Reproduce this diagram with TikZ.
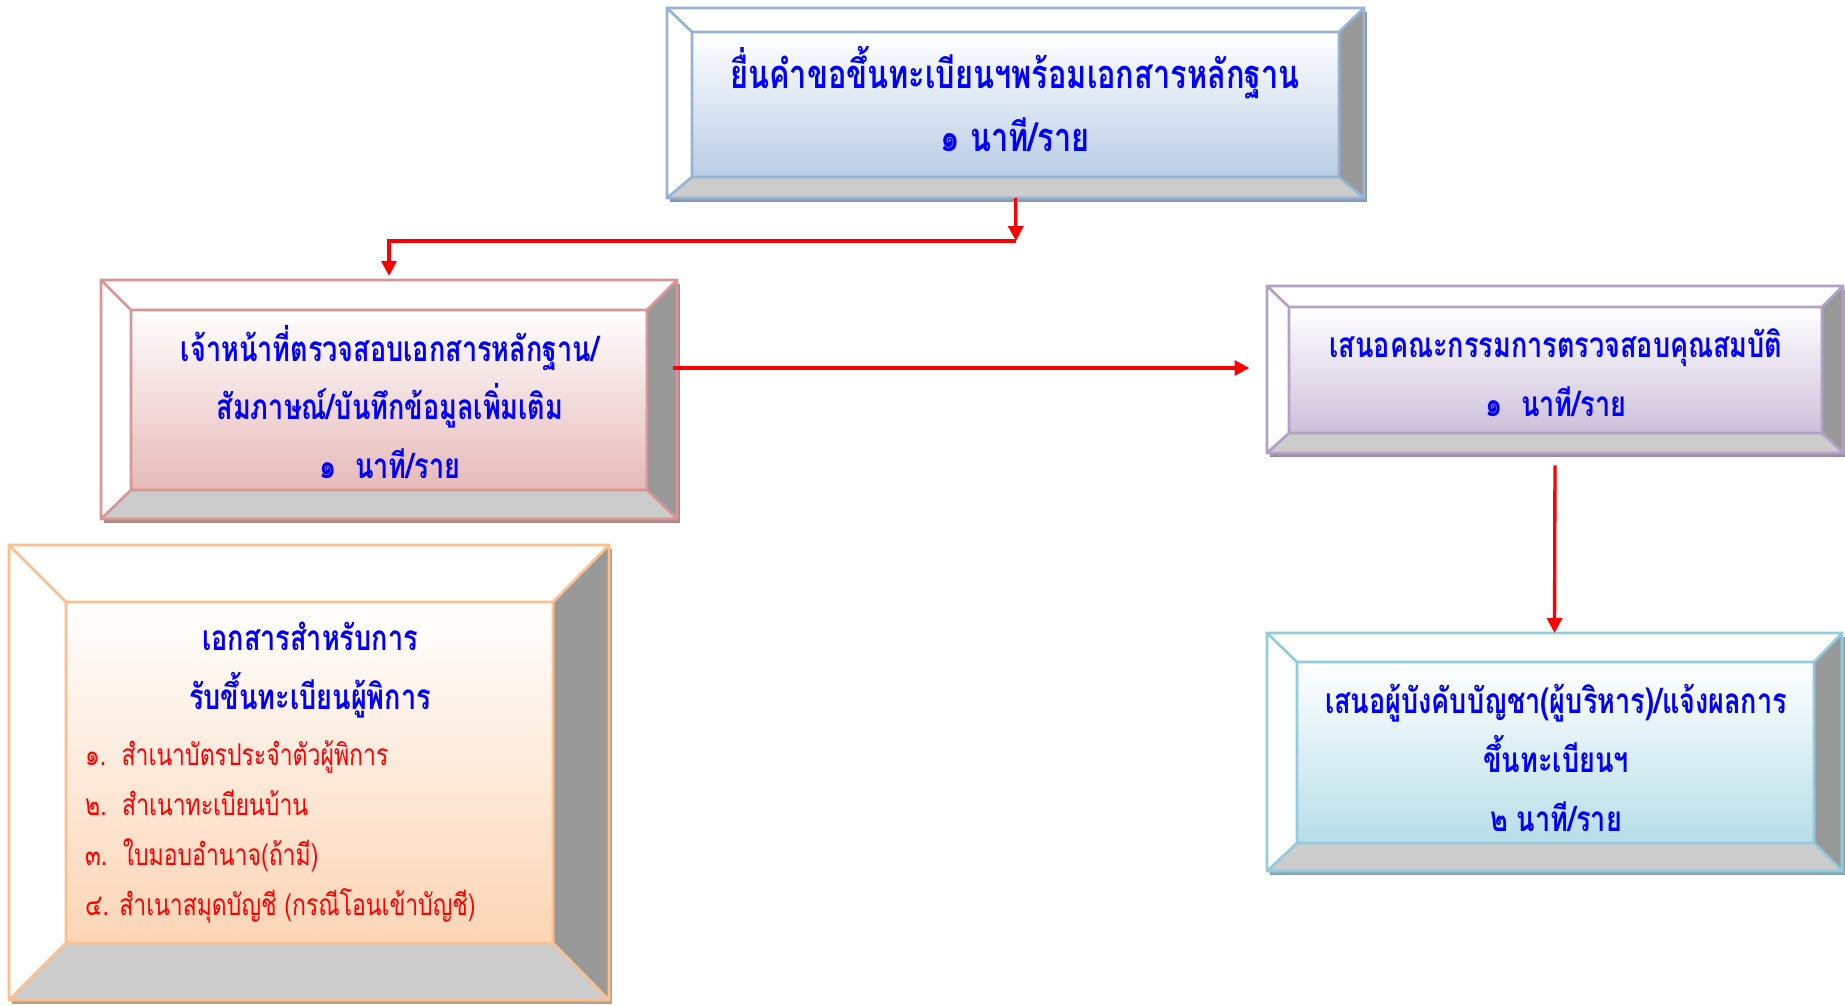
\documentclass[tikz,border=0pt]{standalone}
\usepackage{fontspec}
\newfontfamily\thaifont[Script=Thai,FakeStretch=0.77]{Loma}
\usetikzlibrary{arrows.meta,positioning,calc,fit}

\definecolor{edgeblue}{HTML}{95B3D7}
\definecolor{fillblue}{HTML}{B9CDE5}
\definecolor{edgered}{HTML}{D99694}
\definecolor{fillred}{HTML}{E6B9B8}
\definecolor{edgeviolet}{HTML}{B3A2C7}
\definecolor{fillviolet}{HTML}{CCC1DA}
\definecolor{edgeorange}{HTML}{FAC090}
\definecolor{fillorange}{HTML}{FCD5B5}
\definecolor{edgecyan}{HTML}{93CDDD}
\definecolor{fillcyan}{HTML}{B7DEE8}
\definecolor{bevelside}{HTML}{999999}
\definecolor{bevelbase}{HTML}{CCCCCC}

\tikzset{
  frame/.style={inner sep=0pt, outer sep=0pt},
  boxtext/.style={font=\thaifont\bfseries\fontsize{20}{33.5}\selectfont, text=blue, align=center},
  bigtext/.style={font=\thaifont\bfseries\fontsize{22.7}{35.7}\selectfont, text=blue, align=center},
  listtext/.style={font=\thaifont\fontsize{17}{28.6}\selectfont, text=red, align=left, anchor=west},
  flow/.style={draw=red, line width=1.9pt, -{Triangle[length=8.5pt,width=8.5pt]}},
}

% bevelled frame round a fitted node: name, insets l/t/r/b, edge colour, fill colour
\newcommand{\bevelbox}[7]{%
  \fill[#6!50!gray] ($(#1.north west)+(3,4)$) rectangle ($(#1.south east)+(3,4)$);
  \coordinate (#1-a) at (#1.north west);
  \coordinate (#1-b) at (#1.north east);
  \coordinate (#1-c) at (#1.south east);
  \coordinate (#1-d) at (#1.south west);
  \coordinate (#1-ia) at ($(#1-a)+(#2,#3)$);
  \coordinate (#1-ib) at ($(#1-b)+(-#4,#3)$);
  \coordinate (#1-ic) at ($(#1-c)+(-#4,-#5)$);
  \coordinate (#1-id) at ($(#1-d)+(#2,-#5)$);
  \fill[white] (#1-a) rectangle (#1-c);
  \fill[bevelside] (#1-b) -- (#1-c) -- (#1-ic) -- (#1-ib) -- cycle;
  \fill[bevelbase] (#1-d) -- (#1-c) -- (#1-ic) -- (#1-id) -- cycle;
  \shade[top color=white, bottom color=#7] (#1-ia) rectangle (#1-ic);
  \draw[#6, line width=1.5pt] (#1-a) rectangle (#1-c) (#1-ia) rectangle (#1-ic)
    (#1-a) -- (#1-ia) (#1-b) -- (#1-ib) (#1-c) -- (#1-ic) (#1-d) -- (#1-id);
}

\begin{document}
\begin{tikzpicture}[x=0.02cm,y=-0.02cm]
\useasboundingbox (0,0) rectangle (1845,1005);

% frames
\coordinate (p1) at (667,8);   \coordinate (q1) at (1364,198);
\coordinate (p2) at (101,280); \coordinate (q2) at (677,519);
\coordinate (p3) at (1267,286); \coordinate (q3) at (1843,453);
\coordinate (p4) at (9,545);   \coordinate (q4) at (609,1000);
\coordinate (p5) at (1267,633); \coordinate (q5) at (1842,871);
\node[frame, fit=(p1)(q1)] (b1) {};
\node[frame, fit=(p2)(q2)] (b2) {};
\node[frame, fit=(p3)(q3)] (b3) {};
\node[frame, fit=(p4)(q4)] (b4) {};
\node[frame, fit=(p5)(q5)] (b5) {};
\bevelbox{b1}{25}{24}{25}{21}{edgeblue}{fillblue}
\bevelbox{b2}{30}{30}{30}{29}{edgered}{fillred}
\bevelbox{b3}{22}{21}{21}{20}{edgeviolet}{fillviolet}
\bevelbox{b4}{57}{57}{56}{57}{edgeorange}{fillorange}
\bevelbox{b5}{30}{29}{28}{28}{edgecyan}{fillcyan}

% texts
\node[bigtext] (t1) at (1015,99) {ยื่นคำขอขึ้นทะเบียนฯพร้อมเอกสารหลักฐาน\\๑ นาที/ราย};
\node[boxtext] (t2) at (390,402) {เจ้าหน้าที่ตรวจสอบเอกสารหลักฐาน/\\สัมภาษณ์/บันทึกข้อมูลเพิ่มเติม\\๑~~นาที/ราย};
\node[boxtext] (t3) at (1556,373) {เสนอคณะกรรมการตรวจสอบคุณสมบัติ\\๑~~นาที/ราย};
\node[boxtext] (t4) at (310,670) {เอกสารสำหรับการ\\รับขึ้นทะเบียนผู้พิการ};
\node[listtext] (l4) at (79,832) {๑.~~สำเนาบัตรประจำตัวผู้พิการ\\๒.~~สำเนาทะเบียนบ้าน\\๓.~~ใบมอบอำนาจ(ถ้ามี)\\๔. สำเนาสมุดบัญชี (กรณีโอนเข้าบัญชี)};
\node[boxtext] (t5) at (1556,758) {เสนอผู้บังคับบัญชา(ผู้บริหาร)/แจ้งผลการ\\ขึ้นทะเบียนฯ\\๒ นาที/ราย};

% connectors
\coordinate (split) at (1016,241);
\coordinate (cross) at (673,368);
\draw[flow] (b1.south) -- (split);
\draw[flow, shorten >=2.3pt] (split) -| (b2.north);
\draw[flow, shorten >=10pt] (cross) -- (cross -| b3.west);
\draw[flow, shorten <=7pt] (b3.south) -- (b5.north);
\end{tikzpicture}
\end{document}
